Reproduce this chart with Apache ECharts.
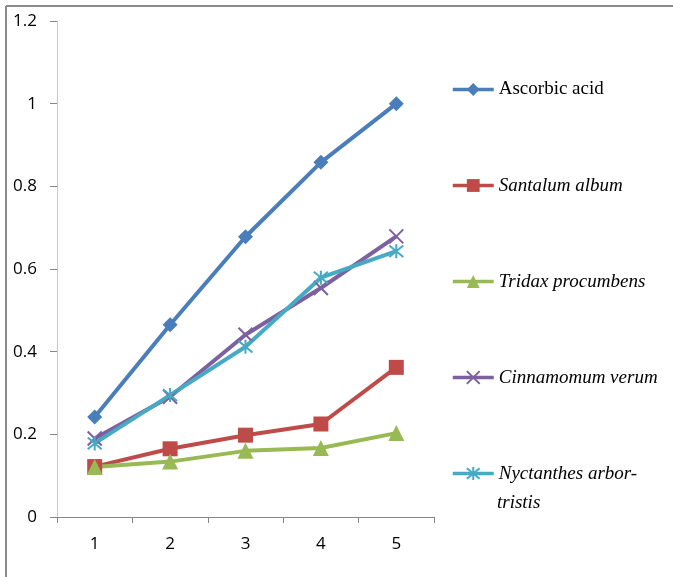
<!DOCTYPE html>
<html>
<head>
<meta charset="utf-8">
<script src="https://cdn.jsdelivr.net/npm/echarts@6/dist/echarts.min.js"></script>
<style>
html,body{margin:0;padding:0;background:#fff;}
#chart{width:673px;height:577px;}
</style>
</head>
<body>
<div id="chart"></div>
<script>
const categories = ['1', '2', '3', '4', '5'];
const ascorbicAcid = [0.242, 0.465, 0.678, 0.858, 1.0];
const santalumAlbum = [0.122, 0.165, 0.198, 0.225, 0.362];
const tridaxProcumbens = [0.121, 0.134, 0.16, 0.167, 0.203];
const cinnamomumVerum = [0.19, 0.291, 0.441, 0.554, 0.679];
const nyctanthes = [0.178, 0.295, 0.412, 0.579, 0.643];
const seriesNames = ['Ascorbic acid', 'Santalum album', 'Tridax procumbens', 'Cinnamomum verum', 'Nyctanthes arbor-tristis'];
const yTicks = { min: 0, max: 1.2, interval: 0.2 };

const colors = ['#4a7ebb', '#be4b48', '#98b954', '#7d60a0', '#46aac5'];
const crossPath = 'path://M0,0L10,10M10,0L0,10';
const starPath = 'path://M0,0L10,10M10,0L0,10M5,-1L5,11';

function mk(name, data, color, symbol, size, stroked) {
  return {
    name: name,
    type: 'line',
    data: data,
    symbol: symbol,
    symbolSize: size,
    showAllSymbol: true,
    lineStyle: { color: color, width: 4 },
    itemStyle: stroked ? { color: color, borderColor: color, borderWidth: 2 } : { color: color },
    z: 2
  };
}

const chart = echarts.init(document.getElementById('chart'));
chart.setOption({
  animation: false,
  backgroundColor: '#fff',
  grid: { left: 57, right: 239, top: 21, bottom: 60, containLabel: false },
  xAxis: {
    type: 'category',
    data: categories,
    boundaryGap: true,
    axisLine: { lineStyle: { color: '#868686', width: 1 } },
    axisTick: { show: true, length: 6, lineStyle: { color: '#868686' } },
    axisLabel: { color: '#000', fontFamily: 'Open Sans', fontSize: 17, margin: 19 }
  },
  yAxis: {
    type: 'value',
    min: yTicks.min, max: yTicks.max, interval: yTicks.interval,
    splitLine: { show: false },
    axisLine: { show: true, lineStyle: { color: '#c8c8c8', width: 1 } },
    axisTick: { show: true, length: 7, lineStyle: { color: '#868686' } },
    axisLabel: { color: '#000', fontFamily: 'Open Sans', fontSize: 17, margin: 20 }
  },
  legend: {
    orient: 'vertical',
    left: 451,
    top: 80,
    padding: 0,
    itemWidth: 41,
    itemHeight: 16,
    itemGap: 77,
    lineStyle: { width: 3.5 },
    data: seriesNames,
    formatter: function (n) {
      if (n === 'Ascorbic acid') return '{r|' + n + '}';
      if (n === 'Nyctanthes arbor-tristis') return '{i|Nyctanthes arbor-}';
      return '{i|' + n + '}';
    },
    textStyle: {
      color: '#000',
      rich: {
        r: { fontFamily: 'Liberation Serif', fontSize: 19, lineHeight: 20, color: '#000' },
        i: { fontFamily: 'Liberation Serif', fontSize: 19, fontStyle: 'italic', lineHeight: 20, color: '#000' }
      }
    }
  },
  graphic: [
    { type: 'line', shape: { x1: 6, y1: 6, x2: 673, y2: 6 }, style: { stroke: '#8a8a8a', lineWidth: 2 } },
    { type: 'line', shape: { x1: 6, y1: 6, x2: 6, y2: 577 }, style: { stroke: '#8a8a8a', lineWidth: 2 } },
    { type: 'text', left: 497, top: 493, style: { text: 'tristis', font: 'italic 19px "Liberation Serif"', fill: '#000' } }
  ],
  series: [
    mk(seriesNames[0], ascorbicAcid, colors[0], 'diamond', 15, false),
    mk(seriesNames[1], santalumAlbum, colors[1], 'rect', 15, false),
    mk(seriesNames[2], tridaxProcumbens, colors[2], 'triangle', 16, false),
    mk(seriesNames[3], cinnamomumVerum, colors[3], crossPath, 14, true),
    mk(seriesNames[4], nyctanthes, colors[4], starPath, 14, true)
  ]
});
</script>
</body>
</html>
